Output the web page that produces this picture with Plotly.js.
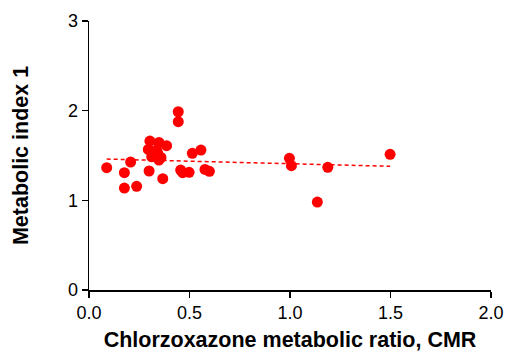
<!DOCTYPE html>
<html>
<head>
<meta charset="utf-8">
<script src="https://cdn.plot.ly/plotly-3.0.1.min.js"></script>
<style>html,body{margin:0;padding:0;background:#fff}#chart{width:506px;height:352px}</style>
</head>
<body>
<div id="chart"></div>
<script>
const cmr = [0.088, 0.444, 0.444, 0.303, 0.348, 0.386, 0.295, 0.337, 0.312, 0.342, 0.358, 0.348,
             0.207, 0.514, 0.557, 0.176, 0.299, 0.456, 0.466, 0.498, 0.577, 0.599, 0.367, 0.176, 0.237,
             0.997, 1.007, 1.188, 1.136, 1.498];
const mi1 = [1.364, 1.988, 1.877, 1.661, 1.646, 1.609, 1.568, 1.561, 1.486, 1.524, 1.479, 1.449,
             1.427, 1.524, 1.561, 1.308, 1.327, 1.338, 1.308, 1.312, 1.345, 1.323, 1.241, 1.137, 1.156,
             1.468, 1.386, 1.368, 0.981, 1.513];
const fitX = [0.088, 1.498];
const fitY = [1.46, 1.38];
const xTicks = [0, 0.5, 1, 1.5, 2];
const xTickText = ['0.0', '0.5', '1.0', '1.5', '2.0'];
const yTicks = [0, 1, 2, 3];

const font = 'Liberation Sans, Arial, sans-serif';
Plotly.newPlot('chart', [
  {x: cmr, y: mi1, type: 'scatter', mode: 'markers', cliponaxis: false,
   marker: {color: '#ff0000', size: 11}, showlegend: false},
  {x: fitX, y: fitY, type: 'scatter', mode: 'lines',
   line: {color: '#ff0000', width: 1.5, dash: '4px,3px'}, showlegend: false}
], {
  width: 506, height: 352,
  margin: {l: 89, r: 15, t: 21, b: 62},
  paper_bgcolor: '#fff', plot_bgcolor: '#fff',
  font: {family: font, color: '#000', size: 18},
  xaxis: {range: [0, 2], tickvals: xTicks, ticktext: xTickText, showgrid: false, zeroline: false,
          showline: true, linecolor: '#000', linewidth: 1.5, ticks: 'outside', ticklen: 6, tickwidth: 1.5,
          tickcolor: '#000', tickfont: {size: 18},
          title: {text: '<b>Chlorzoxazone metabolic ratio, CMR</b>', font: {size: 21.5}, standoff: 10}},
  yaxis: {range: [0, 3], tickvals: yTicks, showgrid: false, zeroline: false,
          showline: true, linecolor: '#000', linewidth: 1.5, ticks: 'outside', ticklen: 6, tickwidth: 1.5,
          tickcolor: '#000', tickfont: {size: 18},
          title: {text: '<b>Metabolic index 1</b>', font: {size: 21.5}, standoff: 33}}
}, {displayModeBar: false, staticPlot: true});
</script>
</body>
</html>
